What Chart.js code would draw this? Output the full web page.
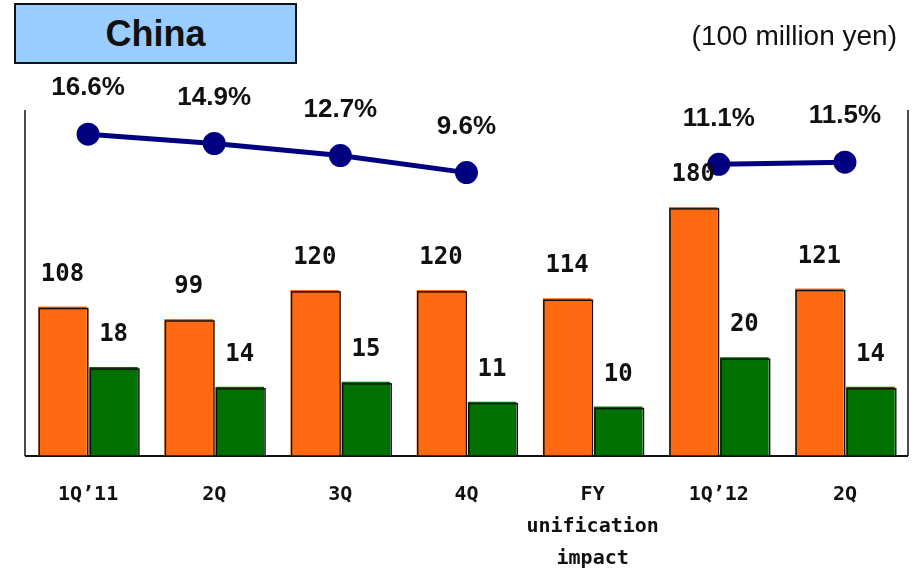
<!DOCTYPE html>
<html>
<head>
<meta charset="utf-8">
<title>China</title>
<script src="https://cdn.jsdelivr.net/npm/chart.js@4"></script>
<style>
    html, body { margin: 0; padding: 0; background: #fff; }
    #wrap { position: relative; width: 922px; height: 577px; }
    #chart { position: absolute; left: 0; top: 0; }
    .region-box {
        position: absolute; left: 14px; top: 3px; width: 279px; height: 57px;
        background: #99ccff; border: 2.5px solid #111;
        font: bold 36px "Liberation Sans", Arial, sans-serif;
        text-align: center; line-height: 57px; color: #111;
    }
    .unit {
        position: absolute; right: 25px; top: 20px;
        font: 28px "Liberation Sans", Arial, sans-serif; color: #111;
    }
</style>
</head>
<body>
<div id="wrap">
    <canvas id="chart" width="922" height="577"></canvas>
    <div class="region-box">China</div>
    <div class="unit">(100 million yen)</div>
</div>
<script>
'use strict';

// Period labels (multi-line entries are drawn as stacked lines)
const periods = ['1Q\u201911', '2Q', '3Q', '4Q', ['FY', 'unification', 'impact'], '1Q\u201912', '2Q'];

// Net sales, operating income (100 million yen) and operating margin (%)
const netSales = [108, 99, 120, 120, 114, 180, 121];
const operatingIncome = [18, 14, 15, 11, 10, 20, 14];
const operatingMargin = [16.6, 14.9, 12.7, 9.6, null, 11.1, 11.5];

const ORANGE = '#ff6a10';
const GREEN = '#007000';
const NAVY = '#000080';
const MONO = '"DejaVu Sans Mono", monospace';

/**
 * Draws the thin frame (left, right and bottom lines) around the plot area.
 */
const framePlugin = {
    id: 'frame',
    beforeDatasetsDraw(chart) {
        const { ctx, chartArea: a } = chart;
        ctx.save();
        ctx.strokeStyle = '#111';
        ctx.lineWidth = 1.5;
        ctx.beginPath();
        ctx.moveTo(a.left, a.top);
        ctx.lineTo(a.left, a.bottom);
        ctx.moveTo(a.right, a.top);
        ctx.lineTo(a.right, a.bottom);
        ctx.stroke();
        ctx.lineWidth = 2;
        ctx.beginPath();
        ctx.moveTo(a.left, a.bottom);
        ctx.lineTo(a.right, a.bottom);
        ctx.stroke();
        ctx.restore();
    }
};

/**
 * Dark outline slightly offset from each bar, plus the value labels.
 */
const labelPlugin = {
    id: 'labels',
    afterDatasetsDraw(chart) {
        const ctx = chart.ctx;
        ctx.save();
        ctx.textAlign = 'center';
        ctx.textBaseline = 'middle';
        ctx.fillStyle = '#111';
        chart.data.datasets.forEach((ds, i) => {
            const meta = chart.getDatasetMeta(i);
            meta.data.forEach((el, j) => {
                const v = ds.data[j];
                if (v === null || v === undefined) return;
                if (ds.type === 'line') {
                    ctx.font = 'bold 26px "Liberation Sans", Arial, sans-serif';
                    ctx.fillText(v.toFixed(1) + '%', el.x, el.y - 46);
                } else {
                    const w = el.width;
                    ctx.strokeStyle = '#111';
                    ctx.lineWidth = 1.5;
                    ctx.strokeRect(el.x - w / 2 + 1, el.y + 2, w, el.base - el.y - 2);
                    ctx.font = 'bold 24px ' + MONO;
                    ctx.fillText(String(v), el.x, el.y - 32);
                }
            });
        });
        ctx.restore();
    }
};

const chart = new Chart(document.getElementById('chart').getContext('2d'), {
    type: 'bar',
    data: {
        labels: periods,
        datasets: [
            {
                type: 'line',
                data: operatingMargin,
                yAxisID: 'yMargin',
                borderColor: NAVY,
                backgroundColor: NAVY,
                borderWidth: 5,
                pointRadius: 9,
                pointHoverRadius: 9,
                spanGaps: false,
                tension: 0,
                order: 0
            },
            {
                data: netSales,
                yAxisID: 'ySales',
                backgroundColor: ORANGE,
                borderWidth: 0,
                categoryPercentage: 0.81,
                barPercentage: 0.95,
                order: 1
            },
            {
                data: operatingIncome,
                yAxisID: 'yIncome',
                backgroundColor: GREEN,
                borderWidth: 0,
                categoryPercentage: 0.81,
                barPercentage: 0.95,
                order: 1
            }
        ]
    },
    options: {
        responsive: false,
        animation: false,
        layout: { padding: { left: 25, right: 9, top: 110, bottom: 0 } },
        plugins: {
            legend: { display: false },
            title: { display: false },
            tooltip: { enabled: false }
        },
        scales: {
            x: {
                grid: { display: false, drawTicks: false },
                border: { display: false },
                ticks: {
                    color: '#111',
                    padding: 23,
                    maxRotation: 0,
                    autoSkip: false,
                    font: { family: MONO, weight: 'bold', size: 20, lineHeight: 1.6 }
                },
                afterFit(scale) { scale.height = 121; }
            },
            ySales: { display: false, min: 0, max: 250 },
            yIncome: { display: false, min: 0, max: 70 },
            yMargin: { display: false, min: -42, max: 21 }
        }
    },
    plugins: [framePlugin, labelPlugin]
});
</script>
</body>
</html>
